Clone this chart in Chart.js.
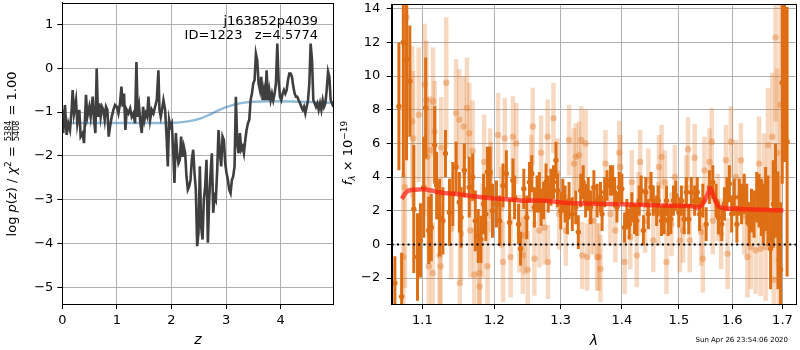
<!DOCTYPE html>
<html>
<head>
<meta charset="utf-8">
<script src="https://cdn.jsdelivr.net/npm/chart.js@4/dist/chart.umd.min.js"></script>
<style>
  html, body { margin: 0; padding: 0; background: #fff; }
  #pz { position: absolute; left: 0; top: 0; }
  #spec { position: absolute; left: 334px; top: 0; }
</style>
</head>
<body>
<canvas id="pz" width="336" height="350"></canvas>
<canvas id="spec" width="466" height="350"></canvas>
<script>
// ---- left panel: log p(z) ----
const zTicks = [0, 1, 2, 3, 4];
const logpTicks = [-5, -4, -3, -2, -1, 0, 1];
// [z, log p(z)]
const pzCurve = [
  [0.000,-0.95],[0.018,-1.48],[0.049,-0.84],[0.080,-1.52],[0.110,-1.26],[0.141,-1.41],[0.171,-0.95],[0.190,-0.50],
  [0.214,-1.03],[0.251,-0.73],[0.275,-1.26],[0.312,-0.95],[0.336,-1.56],[0.373,-1.48],[0.398,-1.71],[0.434,-0.61],
  [0.459,-1.11],[0.495,-0.88],[0.520,-1.11],[0.557,-0.65],[0.581,-1.18],[0.606,-1.48],[0.630,-0.01],[0.654,-1.11],
  [0.679,-0.80],[0.703,-1.11],[0.728,-0.88],[0.752,-0.95],[0.777,-1.18],[0.801,-0.88],[0.826,-0.95],[0.850,-1.56],
  [0.875,-1.33],[0.905,-1.11],[0.936,-0.95],[0.966,-0.84],[0.997,-0.88],[1.028,-1.03],[1.058,-0.80],[1.083,-0.42],
  [1.107,-0.88],[1.131,-0.58],[1.156,-1.41],[1.180,-0.95],[1.211,-1.03],[1.242,-0.92],[1.272,-1.11],[1.303,-1.03],
  [1.333,-1.26],[1.358,0.14],[1.382,-1.11],[1.407,-0.88],[1.431,-1.26],[1.456,-1.48],[1.480,-0.88],[1.505,-1.18],
  [1.529,-1.03],[1.554,-1.11],[1.578,-0.65],[1.609,-1.18],[1.639,-0.95],[1.670,-1.03],[1.700,-0.88],[1.731,-0.73],
  [1.761,-0.05],[1.780,-0.95],[1.804,-1.11],[1.835,-0.88],[1.853,-0.73],[1.884,-0.95],[1.914,-1.64],[1.933,-2.24],
  [1.957,-1.18],[1.982,-1.33],[2.006,-1.26],[2.031,-1.86],[2.055,-2.62],[2.080,-1.48],[2.104,-1.94],[2.128,-2.17],
  [2.153,-2.09],[2.177,-1.56],[2.202,-2.02],[2.226,-1.79],[2.251,-1.94],[2.275,-2.47],[2.300,-2.77],[2.324,-2.70],
  [2.349,-2.55],[2.373,-2.09],[2.398,-1.86],[2.422,-2.39],[2.446,-2.77],[2.471,-4.06],[2.495,-3.76],[2.520,-2.24],
  [2.544,-3.61],[2.569,-3.91],[2.593,-3.00],[2.618,-2.70],[2.642,-2.09],[2.667,-3.98],[2.691,-3.00],[2.716,-2.39],
  [2.740,-1.94],[2.765,-3.30],[2.789,-2.92],[2.813,-3.00],[2.838,-2.32],[2.862,-1.41],[2.887,-1.94],[2.911,-2.24],
  [2.936,-1.56],[2.960,-1.64],[2.985,-2.17],[3.009,-2.39],[3.034,-2.55],[3.058,-2.77],[3.083,-2.85],[3.107,-2.55],
  [3.131,-2.47],[3.156,-2.24],[3.180,-0.65],[3.205,-1.71],[3.229,-1.94],[3.254,-1.48],[3.278,-1.86],[3.303,-1.79],
  [3.327,-1.94],[3.352,-1.64],[3.376,-1.41],[3.401,-1.26],[3.425,-1.18],[3.450,-0.73],[3.474,-0.58],[3.498,-0.35],
  [3.523,-0.27],[3.547,0.33],[3.572,0.18],[3.596,-0.35],[3.621,-0.50],[3.645,-0.20],[3.670,-0.73],[3.694,-0.50],
  [3.719,-0.73],[3.743,-0.05],[3.768,-0.73],[3.792,-0.50],[3.817,-0.73],[3.841,-0.58],[3.865,-0.73],[3.890,-0.58],
  [3.914,-0.35],[3.939,0.56],[3.963,-0.27],[3.988,-0.65],[4.012,-0.73],[4.037,-0.58],[4.061,-0.50],[4.086,-0.58],
  [4.110,-0.50],[4.135,-0.27],[4.159,-0.12],[4.183,-0.12],[4.208,-0.20],[4.232,-0.42],[4.257,-0.58],[4.281,-0.65],
  [4.306,-0.65],[4.330,-0.73],[4.355,-0.80],[4.379,-0.88],[4.404,-0.95],[4.428,-0.88],[4.453,-1.03],[4.477,-0.88],
  [4.502,-0.73],[4.526,-0.35],[4.550,0.56],[4.575,0.18],[4.599,-0.73],[4.624,-0.80],[4.648,-0.88],[4.673,-0.80],
  [4.697,-0.95],[4.722,-0.80],[4.746,-0.95],[4.771,-0.73],[4.795,-0.88],[4.820,-0.80],[4.844,-0.50],[4.869,-0.08],
  [4.893,-0.20],[4.917,-0.73],[4.942,-0.80],[4.966,-0.88]
];
// smooth prior curve [z, log p]
const priorCurve = [
  [0,-1.25],[0.5,-1.25],[1.0,-1.25],[1.5,-1.25],[2.0,-1.245],[2.2,-1.23],[2.4,-1.19],[2.55,-1.14],[2.7,-1.06],
  [2.85,-0.97],[3.0,-0.89],[3.15,-0.83],[3.3,-0.79],[3.5,-0.765],[3.8,-0.755],[4.2,-0.76],[4.6,-0.775],[4.966,-0.79]
];

// ---- right panel: spectrum ----
const lamTicks = [1.1, 1.2, 1.3, 1.4, 1.5, 1.6, 1.7];
const fluxTicks = [-2, 0, 2, 4, 6, 8, 10, 12, 14];
// [lambda, flux, err]  (dark points)
const darkPts = [
  [1.0640,-2.3,1.6],[1.0692,8.2,3.8],[1.0727,-3.1,2.6],[1.0749,12.0,8.0],[1.0791,11.0,6.0],[1.0834,9.7,3.3],
  [1.0886,2.1,3.8],[1.0935,-0.75,2.6],[1.0974,0.24,2.2],[1.1018,3.4,3.0],[1.1044,8.1,3.0],[1.1084,0.83,2.0],
  [1.1119,1.0,2.0],[1.1164,5.9,2.3],[1.1191,3.5,2.0],[1.1231,1.6,2.3],[1.1276,1.4,2.0],[1.1311,5.4,1.4],
  [1.1366,1.9,2.0],[1.1412,3.0,1.9],[1.1457,4.6,1.5],[1.1502,2.5,1.8],[1.1526,1.6,1.8],[1.1572,4.4,1.6],
  [1.1641,3.4,1.8],[1.1689,4.0,1.4],[1.1726,1.4,1.8],[1.1768,0.5,1.6],[1.1806,0.3,1.4],[1.1844,2.4,1.8],
  [1.1877,1.8,1.6],[1.1901,4.3,1.5],[1.1938,4.3,1.5],[1.1973,2.0,1.6],
  [1.2030,2.4,1.4],[1.2078,1.4,1.5],[1.2126,3.5,1.3],[1.2175,4.2,1.4],[1.2223,1.3,1.4],[1.2272,3.8,1.3],
  [1.2297,2.8,1.3],[1.2356,1.2,1.2],[1.2386,-0.26,1.0],[1.2435,3.3,1.2],[1.2480,1.6,1.3],[1.2520,3.7,1.2],
  [1.2555,4.2,1.1],[1.2595,2.2,1.2],[1.2636,3.0,1.1],[1.2671,3.1,1.2],[1.2697,2.2,1.1],[1.2736,2.6,1.1],
  [1.2773,3.7,1.1],[1.2808,3.0,1.1],[1.2849,3.4,1.1],[1.2889,3.7,1.0],[1.2927,5.0,1.1],[1.2952,3.2,1.0],
  [1.3004,2.0,1.1],[1.3035,2.9,1.0],[1.3071,2.4,1.1],[1.3108,1.6,1.0],[1.3134,2.6,1.1],[1.3186,1.8,1.0],
  [1.3241,2.2,1.0],[1.3282,0.73,1.0],[1.3320,3.2,1.0],[1.3361,3.7,1.0],[1.3400,2.6,1.0],[1.3442,3.0,1.0],
  [1.3480,2.2,1.0],[1.3534,3.4,1.0],[1.3588,2.6,1.0],
  [1.3643,2.8,0.9],[1.3669,1.8,1.0],[1.3713,3.1,0.9],[1.3751,3.5,0.9],[1.3807,3.8,0.9],[1.3845,3.8,0.9],
  [1.3878,3.1,0.9],[1.3917,2.2,0.9],[1.3957,3.4,0.9],[1.4000,3.3,0.9],[1.4046,1.0,0.9],[1.4085,1.8,0.9],
  [1.4126,1.2,0.9],[1.4170,2.2,0.9],[1.4216,1.5,0.9],[1.4255,1.4,0.9],[1.4296,2.6,0.9],[1.4330,3.2,0.9],
  [1.4370,0.83,0.9],[1.4410,3.1,0.9],[1.4456,1.8,0.9],[1.4503,3.4,0.9],[1.4543,2.6,0.9],[1.4601,2.0,0.9],
  [1.4630,2.6,0.9],[1.4688,1.4,0.9],[1.4736,1.5,0.9],[1.4776,2.6,0.9],[1.4806,1.4,0.9],[1.4854,1.5,0.9],
  [1.4901,2.6,0.9],[1.4944,2.9,0.9],[1.4998,1.9,0.9],[1.5045,2.6,0.9],[1.5094,1.5,0.9],[1.5136,3.1,0.9],
  [1.5179,1.5,0.9],[1.5226,3.1,0.9],[1.5288,2.6,0.9],[1.5336,3.1,0.9],
  [1.5379,1.8,1.0],[1.5440,2.6,1.0],[1.5502,1.2,1.0],[1.5564,3.4,1.0],[1.5627,3.7,1.0],[1.5689,2.6,1.0],
  [1.5734,1.6,1.0],[1.5797,1.2,1.0],[1.5848,2.4,1.0],[1.5897,3.0,1.0],[1.5943,3.6,1.1],[1.5988,1.8,1.1],
  [1.6039,2.8,1.1],[1.6089,1.2,1.1],[1.6136,2.8,1.1],[1.6180,2.4,1.2],[1.6232,3.0,1.2],[1.6283,2.4,1.2],
  [1.6329,1.2,1.3],[1.6375,2.0,1.3],[1.6427,1.8,1.4],[1.6479,2.8,1.5],[1.6526,2.6,1.6],[1.6572,2.2,1.7],
  [1.6612,1.8,1.8],[1.6658,2.7,1.9],[1.6705,2.0,2.1],[1.6758,-0.26,2.4],[1.6812,2.4,2.6],[1.6859,3.2,2.8],
  [1.6907,0.83,3.5],[1.6961,-1.5,4.0],[1.6996,9.6,6.0],[1.7043,10.9,6.0],[1.7096,6.1,8.0]
];
// [lambda, flux, err]  (pale points)
const paleSpec = [
  [1.0749,-0.75,5.0],[1.0771,3.4,6.0],[1.0791,13.5,6.0],[1.0865,7.3,4.5],[1.0878,6.3,4.0],[1.0951,7.7,4.0],
  [1.1030,9.5,3.6],[1.1053,8.6,3.5],[1.1066,5.2,3.5],[1.1084,-1.3,3.0],[1.1097,5.6,3.2],[1.1137,-1.7,3.0],
  [1.1142,8.5,3.2],[1.1164,6.7,3.0],[1.1231,-0.65,3.0],[1.1244,-1.3,3.0],[1.1253,5.75,3.0],[1.1321,9.6,3.9],
  [1.1389,0.93,3.0],[1.1457,7.8,3.2],[1.1502,7.4,3.0],[1.1509,-2.3,2.8],[1.1526,0.63,2.8],[1.1564,7.0,3.0],
  [1.1609,8.1,3.0],[1.1641,6.6,3.0],[1.1655,0.83,2.8],[1.1689,5.55,3.0],[1.1712,-1.8,2.8],[1.1782,-1.7,2.8],
  [1.1787,-2.5,2.8],[1.1830,0.83,2.8],[1.1853,4.9,2.8],[1.1901,-1.3,2.7],[1.1938,4.2,2.7],[1.1948,3.4,2.7],
  [1.2054,6.5,2.5],[1.2102,2.2,2.4],[1.2126,-1.04,2.4],[1.2151,6.3,2.4],[1.2238,-0.75,2.4],[1.2272,6.4,2.4],
  [1.2322,6.0,2.4],[1.2371,0.63,2.3],[1.2420,-0.65,2.3],[1.2445,0.53,2.3],[1.2494,-1.5,2.3],[1.2546,4.2,2.3],
  [1.2570,7.0,2.3],[1.2595,-0.85,2.2],[1.2671,0.83,2.2],[1.2697,5.45,2.2],[1.2748,1.0,2.2],[1.2798,6.4,2.2],
  [1.2803,-1.04,2.2],[1.2889,7.5,2.1],[1.2952,4.2,2.1],[1.2978,1.8,2.1],[1.3082,0.83,2.1],[1.3134,6.2,2.1],
  [1.3212,4.8,2.1],[1.3241,5.2,2.0],[1.3293,5.3,2.0],[1.3330,6.2,2.0],[1.3346,-0.65,2.0],[1.3400,6.0,2.0],
  [1.3426,-0.75,2.0],[1.3480,1.4,2.0],[1.3534,1.4,2.0],[1.3588,-0.75,2.0],
  [1.3615,-0.75,2.0],[1.3643,-1.44,2.0],[1.3725,4.8,2.0],[1.3807,1.8,1.9],[1.3889,0.83,1.9],[1.3957,5.45,1.9],
  [1.3973,4.6,1.9],[1.4046,-1.04,1.9],[1.4143,0.43,1.9],[1.4170,3.7,1.9],[1.4255,-0.65,1.9],[1.4284,2.4,1.9],
  [1.4313,4.9,1.9],[1.4400,1.4,1.9],[1.4456,3.8,1.9],[1.4543,0.24,1.9],[1.4630,1.8,1.9],[1.4642,4.6,1.9],
  [1.4688,5.2,1.9],[1.4748,3.7,1.9],[1.4776,-1.04,1.9],[1.4865,1.2,1.9],[1.4926,4.0,1.9],[1.5016,0.24,1.9],
  [1.5076,0.83,1.9],[1.5136,3.4,1.9],[1.5166,5.65,1.9],[1.5197,0.24,1.9],[1.5288,5.15,2.0],
  [1.5409,0.73,2.0],[1.5440,-0.85,2.0],[1.5471,4.4,2.0],[1.5564,4.9,2.0],[1.5608,6.1,2.0],[1.5627,1.4,2.0],
  [1.5721,2.2,2.0],[1.5784,0.63,2.1],[1.5878,5.0,2.1],[1.5910,-0.55,2.1],[1.5974,6.1,2.1],[1.6070,4.0,2.2],
  [1.6167,5.0,2.2],[1.6232,1.7,2.3],[1.6296,-0.75,2.4],[1.6361,-0.16,2.5],[1.6459,-0.35,2.6],[1.6526,4.8,2.8],
  [1.6558,-0.26,2.8],[1.6625,3.6,3.0],[1.6658,-0.16,3.2],[1.6705,5.9,3.4],[1.6792,6.4,3.8],[1.6825,-2.1,4.0],
  [1.6859,12.3,5.0],[1.6892,5.45,5.0],[1.6926,-0.94,5.0],[1.6961,8.3,6.0]
];
// best-fit template
const modelLam  = [1.0727,1.080,1.090,1.102,1.112,1.124,1.146,1.170,1.197,1.227,1.241,1.277,1.298,1.319,1.372,
                   1.428,1.483,1.523,1.535,1.544,1.553,1.558,1.563,1.572,1.585,1.610,1.676,1.702];
const modelFlux = [2.7,3.15,3.25,3.28,3.2,3.08,2.99,2.86,2.74,2.66,2.6,2.6,2.5,2.44,2.4,
                   2.36,2.3,2.27,2.2,2.4,2.99,3.33,2.99,2.3,2.15,2.11,2.05,2.01];

Chart.defaults.font.family = '"DejaVu Sans"';
Chart.defaults.font.size = 13;
Chart.defaults.color = '#000';

const minus = v => (v < 0 ? '\u2212' + Math.abs(v) : String(v));
const fixTicks = vals => s => { s.ticks = vals.map(v => ({ value: v })); };
const gridOpts = { color: '#b0b0b0', lineWidth: 1, tickColor: '#000', tickLength: 5, offset: false };

// draw a run of mixed text (italic, sub/superscripts, a stacked fraction)
function richText(ctx, runs, x, y, angle) {
  ctx.save();
  ctx.translate(x, y);
  ctx.rotate(angle);
  ctx.fillStyle = '#000';
  ctx.textBaseline = 'alphabetic';
  const fontOf = r => (r.italic ? 'italic ' : '') + (r.size || 13) + 'px "DejaVu Sans"';
  const widths = runs.map(r => {
    ctx.font = fontOf(r);
    if (r.num) return Math.max(ctx.measureText(r.num).width, ctx.measureText(r.den).width) + 2;
    return ctx.measureText(r.t).width;
  });
  let u = -widths.reduce((a, b) => a + b, 0) / 2;
  runs.forEach((r, i) => {
    ctx.font = fontOf(r);
    if (r.num) {
      const w = widths[i];
      ctx.textAlign = 'center';
      ctx.fillText(r.num, u + w / 2, -5);
      ctx.fillText(r.den, u + w / 2, 3);
      ctx.fillRect(u + 1, -4.2, w - 2, 0.8);
    } else {
      ctx.textAlign = 'left';
      ctx.fillText(r.t, u, r.dy || 0);
    }
    u += widths[i];
  });
  ctx.restore();
}

const frame = {
  id: 'frame',
  afterDatasetsDraw(chart) {
    const { ctx, chartArea: a } = chart;
    ctx.save();
    ctx.strokeStyle = '#000';
    ctx.lineWidth = 1;
    ctx.strokeRect(Math.round(a.left) + 0.5, Math.round(a.top) + 0.5,
                   Math.round(a.right - a.left), Math.round(a.bottom - a.top));
    ctx.restore();
  }
};

const pzText = {
  id: 'pzText',
  afterDraw(chart) {
    const ctx = chart.ctx;
    ctx.save();
    ctx.fillStyle = '#000';
    ctx.font = '13px "DejaVu Sans"';
    ctx.textAlign = 'right';
    ctx.fillText('j163852p4039', 318, 25);
    ctx.fillText('ID=1223   z=4.5774', 318, 39);
    ctx.textAlign = 'center';
    ctx.font = 'italic 14px "DejaVu Sans"';
    ctx.fillText('z', (chart.chartArea.left + chart.chartArea.right) / 2, 344);
    ctx.restore();
    richText(ctx, [
      { t: 'log ' }, { t: 'p', italic: true }, { t: '(' }, { t: 'z', italic: true }, { t: ') / ' },
      { t: '\u03c7', italic: true }, { t: '2', size: 9, dy: -5 }, { t: ' = ' },
      { num: '5384', den: '5408', size: 8 }, { t: ' = 1.00' }
    ], 16, 154, -Math.PI / 2);
  }
};

const specText = {
  id: 'specText',
  afterDraw(chart) {
    const ctx = chart.ctx;
    ctx.save();
    ctx.fillStyle = '#000';
    ctx.textAlign = 'center';
    ctx.font = 'italic 14px "DejaVu Sans"';
    ctx.fillText('\u03bb', (chart.chartArea.left + chart.chartArea.right) / 2, 345);
    ctx.font = '7px "DejaVu Sans"';
    ctx.textAlign = 'right';
    ctx.fillText('Sun Apr 26 23:54:06 2020', 788 - 334, 342);
    ctx.restore();
    richText(ctx, [
      { t: 'f', italic: true }, { t: '\u03bb', italic: true, size: 9, dy: 3 }, { t: ' \u00d7 10' },
      { t: '\u221219', size: 9, dy: -5 }
    ], 18, 153, -Math.PI / 2);
  }
};

new Chart(document.getElementById('pz'), {
  type: 'scatter',
  data: {
    datasets: [
      { data: pzCurve.map(p => ({ x: p[0], y: p[1] })), showLine: true, borderColor: '#3f3f3f',
        borderWidth: 2.6, pointRadius: 0, order: 0 },
      { data: priorCurve.map(p => ({ x: p[0], y: p[1] })), showLine: true, borderColor: 'rgba(31,119,180,0.5)',
        borderWidth: 2.4, pointRadius: 0, cubicInterpolationMode: 'monotone', order: 1 }
    ]
  },
  options: {
    responsive: false,
    animation: false,
    layout: { padding: { top: 2.7, right: 2.7, left: 0, bottom: 0 } },
    plugins: { legend: { display: false }, tooltip: { enabled: false } },
    scales: {
      x: {
        type: 'linear', min: 0, max: 4.965,
        afterBuildTicks: fixTicks(zTicks),
        afterFit: s => { s.height = 46; s.paddingLeft = 0; s.paddingRight = 0; },
        grid: gridOpts, border: { color: '#000' },
        ticks: { padding: 4, callback: minus, maxRotation: 0 }
      },
      y: {
        type: 'linear', min: -5.38, max: 1.494,
        afterBuildTicks: fixTicks(logpTicks),
        afterFit: s => { s.width = 62.3; s.paddingTop = 0; s.paddingBottom = 0; },
        grid: gridOpts, border: { color: '#000' },
        ticks: { padding: 4, callback: minus }
      }
    }
  },
  plugins: [frame, pzText]
});

const dark = 'rgb(222,110,20)';
const pale = 'rgba(226,116,30,0.28)';

new Chart(document.getElementById('spec'), {
  type: 'scatter',
  data: {
    datasets: [
      { type: 'bar', data: paleSpec.map(p => ({ x: p[0], y: [p[1] - p[2], p[1] + p[2]] })),
        backgroundColor: pale, borderWidth: 0, barThickness: 4.5, inflateAmount: 0, grouped: false, order: 6 },
      { type: 'scatter', data: paleSpec.map(p => ({ x: p[0], y: p[1] })),
        backgroundColor: 'rgba(226,116,30,0.38)', borderWidth: 0, pointRadius: 3.2, order: 5 },
      { type: 'bar', data: darkPts.map(p => ({ x: p[0], y: [p[1] - p[2], p[1] + p[2]] })),
        backgroundColor: dark, borderWidth: 0, barThickness: 3, inflateAmount: 0, grouped: false, order: 4 },
      { type: 'scatter', data: darkPts.map(p => ({ x: p[0], y: p[1] })),
        backgroundColor: dark, borderWidth: 0, pointRadius: 2.7, order: 3 },
      { type: 'line', data: modelLam.map((l, i) => ({ x: l, y: modelFlux[i] })),
        borderColor: 'rgba(255,25,15,0.7)', borderWidth: 4.5, pointRadius: 0, tension: 0.3, order: 2 },
      { type: 'line', data: [{ x: 1.0599, y: 0 }, { x: 1.7281, y: 0 }],
        borderColor: '#000', borderWidth: 2, borderDash: [2, 3.3], pointRadius: 0, order: 1 }
    ]
  },
  options: {
    responsive: false,
    animation: false,
    layout: { padding: { top: 2.7, right: 0.7, left: 0, bottom: 0 } },
    plugins: { legend: { display: false }, tooltip: { enabled: false } },
    scales: {
      x: {
        type: 'logarithmic', min: 1.0599, max: 1.7281, offset: false,
        afterBuildTicks: fixTicks(lamTicks),
        afterFit: s => { s.height = 46; s.paddingLeft = 0; s.paddingRight = 0; },
        grid: gridOpts, border: { color: '#000' },
        ticks: { padding: 4, callback: v => Number(v).toFixed(1), maxRotation: 0, autoSkip: false }
      },
      y: {
        type: 'linear', min: -3.54, max: 14.28,
        afterBuildTicks: fixTicks(fluxTicks),
        afterFit: s => { s.width = 57.7; s.paddingTop = 0; s.paddingBottom = 0; },
        grid: gridOpts, border: { color: '#000' },
        ticks: { padding: 6.5, callback: minus }
      }
    }
  },
  plugins: [frame, specText]
});
</script>
</body>
</html>
